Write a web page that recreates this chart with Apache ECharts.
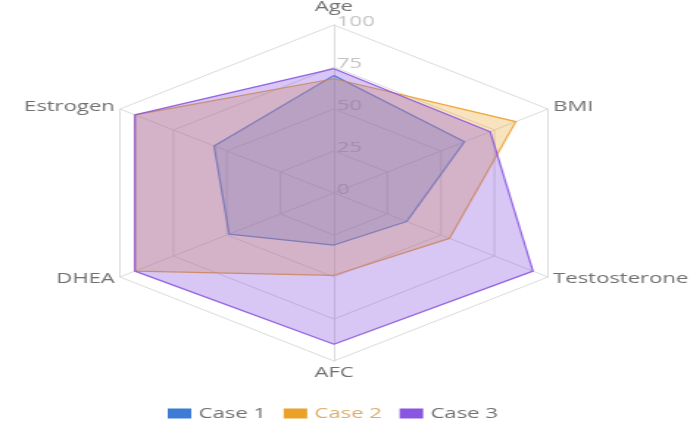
<!DOCTYPE html>
<html>
<head>
<meta charset="utf-8">
<script src="https://cdn.jsdelivr.net/npm/echarts@6/dist/echarts.min.js"></script>
<style>
  html, body { margin: 0; padding: 0; background: #fff; overflow: hidden; }
  #stage { width: 693px; height: 425px; overflow: hidden; }
  /* chart drawn narrow, then widened to fill the frame */
  #chart { width: 471px; height: 425px; transform: scaleX(1.471); transform-origin: 0 0; }
</style>
</head>
<body>
<div id="stage"><div id="chart"></div></div>
<script>
// Axes listed clockwise from the top
const indicators = ['Age', 'BMI', 'Testosterone', 'AFC', 'DHEA', 'Estrogen'];
const seriesNames = ['Case 1', 'Case 2', 'Case 3'];
const case1 = [70, 61, 34, 31, 49, 56];
const case2 = [68, 85, 54, 49, 93, 93];
const case3 = [74, 73, 93, 90, 93, 93];
const scaleMax = 100;

const colors = ['#3d7bd4', '#eba028', '#8a55e0'];
const values = [case1, case2, case3];

// ECharts lays radar axes out counter-clockwise; walk the list backwards after the first axis
const order = [0, 5, 4, 3, 2, 1];

const chart = echarts.init(document.getElementById('chart'));
chart.setOption({
  backgroundColor: '#ffffff',
  animation: false,
  legend: {
    left: 109,
    top: 401,
    itemWidth: 16,
    itemHeight: 10,
    itemGap: 12,
    icon: 'rect',
    textStyle: { fontFamily: 'Open Sans', fontSize: 15, color: '#707070' },
    data: [
      { name: seriesNames[0] },
      { name: seriesNames[1], textStyle: { color: '#dcae6a' } },
      { name: seriesNames[2] }
    ]
  },
  radar: {
    center: [227, 193],
    radius: 168,
    startAngle: 90,
    splitNumber: 4,
    shape: 'polygon',
    nameGap: 4,
    axisName: { color: '#707070', fontFamily: 'Open Sans', fontSize: 15 },
    axisLine: { lineStyle: { color: '#dcdcdc', width: 1 } },
    splitLine: { lineStyle: { color: '#dcdcdc', width: 1 } },
    splitArea: { show: false },
    axisTick: { show: false },
    axisLabel: { show: false },
    indicator: order.map((k) => {
      const ind = { name: indicators[k], min: 0, max: scaleMax };
      if (k === 0) {
        ind.axisLabel = {
          show: true,
          color: '#c4c4c4',
          fontFamily: 'Open Sans',
          fontSize: 15,
          margin: -2,
          align: 'left',
          verticalAlign: 'bottom',
          padding: [0, 0, -4, 0]
        };
      }
      return ind;
    })
  },
  series: [{
    type: 'radar',
    symbol: 'none',
    data: values.map((v, i) => ({
      name: seriesNames[i],
      value: order.map((k) => v[k]),
      itemStyle: { color: colors[i] },
      lineStyle: { color: colors[i], width: 1.2, opacity: 0.9 },
      areaStyle: { color: colors[i], opacity: i === 2 ? 0.33 : 0.3 }
    }))
  }]
});
</script>
</body>
</html>
